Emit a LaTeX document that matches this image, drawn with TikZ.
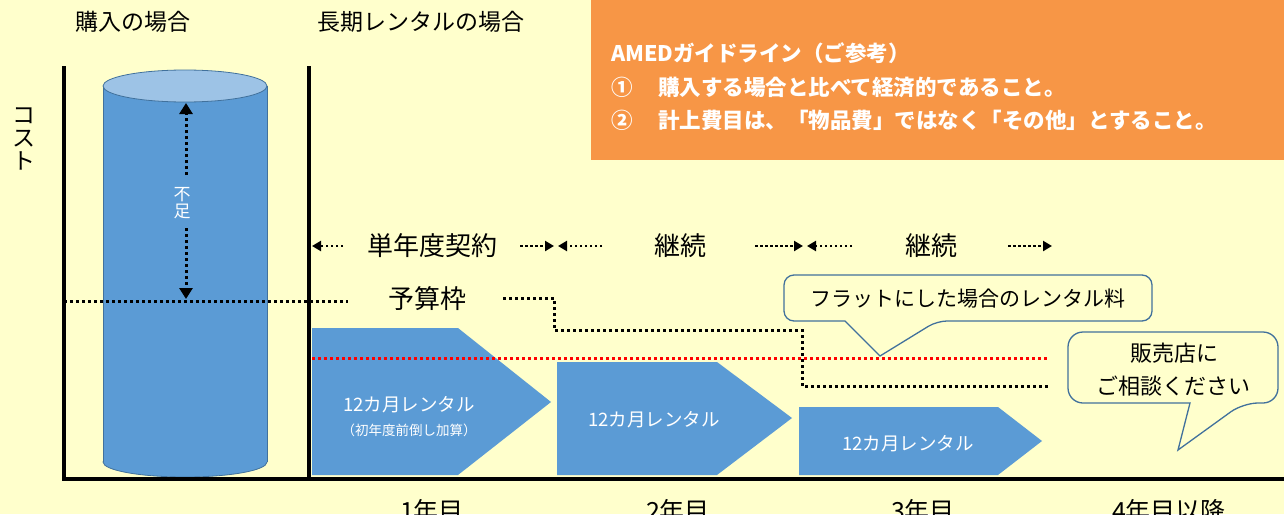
\documentclass[tikz,border=0pt]{standalone}
\usepackage{fontspec}
\setmainfont{Noto Sans CJK JP}
\usetikzlibrary{arrows.meta}
\definecolor{bg}{HTML}{FFFFCC}
\definecolor{orng}{HTML}{F79646}
\definecolor{cylblue}{HTML}{5B9BD5}
\definecolor{cyltop}{HTML}{9DC3E6}
\definecolor{edgeblue}{HTML}{41719C}
\newcommand\fsz[1]{\fontsize{#1pt}{#1pt}\selectfont}
\begin{document}
\begin{tikzpicture}[x=1pt,y=-1pt,
  axis/.style={line width=4pt},
  dotline/.style={line width=3pt, dash pattern=on 3pt off 3pt},
  dotarr/.style={line width=2.5pt, dash pattern=on 2.5pt off 2.5pt, -{Triangle[length=9pt,width=10pt]}},
  cylarr/.style={line width=3pt, dash pattern=on 3pt off 3pt, -{Triangle[length=11pt,width=13pt]}},
  penta/.style={fill=cylblue},
  callout/.style={draw=edgeblue, line width=1.3pt, fill=bg},
  lbl/.style={inner sep=0pt, text=black},
  wlbl/.style={inner sep=0pt, text=white},
  olbl/.style={inner sep=0pt, text=white, anchor=west, font={\fsz{21.5}\bfseries}}]
\useasboundingbox (0,0) rectangle (1284,514);
\fill[bg] (0,0) rectangle (1284,514);
% orange box
\fill[orng] (591,0) rectangle (1284,160);
\node[olbl] (amed) at (611,53) {AMEDガイドライン（ご参考）};
\node[olbl] (n1) at (611,87) {①};
\node[olbl] (l1) at (658,87) {購入する場合と比べて経済的であること。};
\node[olbl] (n2) at (611,120) {②};
\node[olbl] (l2) at (658,120) {計上費目は、「物品費」ではなく「その他」とすること。};
% headings
\node[lbl, font=\fsz{23}] (buy) at (133,22) {購入の場合};
\node[lbl, font=\fsz{23}] (rent) at (421,22) {長期レンタルの場合};
\node[lbl, font=\fsz{23}, align=center] (cost) at (24,139) {\fontsize{23pt}{24pt}\selectfont コ\\ス\\ト};
% pentagons
\fill[penta] (312,328) -- (458,328) -- (551,402) -- (458,475) -- (312,475) -- cycle;
\fill[penta] (557,362) -- (717,362) -- (792,418) -- (717,475) -- (557,475) -- cycle;
\fill[penta] (799,407) -- (998,407) -- (1042,441) -- (998,475) -- (799,475) -- cycle;
\node[wlbl, font=\fsz{18.5}] (p1) at (409,405) {12カ月レンタル};
\node[wlbl, font=\fsz{13.5}] (p1b) at (409,430) {（初年度前倒し加算）};
\node[wlbl, font=\fsz{18.5}] (p2) at (654,420) {12カ月レンタル};
\node[wlbl, font=\fsz{18.5}] (p3) at (908,444) {12カ月レンタル};
% cylinder
\filldraw[fill=cylblue, draw=edgeblue, line width=0.8pt] (185,462) ellipse [x radius=82pt, y radius=15pt];
\fill[cylblue] (103,86) rectangle (267,462);
\draw[edgeblue, line width=0.8pt] (103,86) -- (103,462) (267,86) -- (267,462);
\filldraw[fill=cyltop, draw=edgeblue, line width=0.8pt] (185,86) ellipse [x radius=82pt, y radius=16pt];
\node[wlbl, font=\fsz{17}, align=center] (lack) at (182,203) {\fontsize{17pt}{17pt}\selectfont 不\\足};
\coordinate (ca1) at (186,175);
\coordinate (ca0) at (186,103);
\coordinate (cb1) at (186,228);
\coordinate (cb0) at (186,299);
\draw[cylarr] (ca1) -- (ca0);
\draw[cylarr] (cb1) -- (cb0);
% axes
\draw[axis] (64,66) -- (64,481);
\draw[axis] (309,66) -- (309,481);
\draw[axis] (62,479) -- (1284,479);
% arrow row
\node[lbl, font=\fsz{26}] (t1) at (432,246) {単年度契約};
\node[lbl, font=\fsz{26}] (t2) at (680,246) {継続};
\node[lbl, font=\fsz{26}] (t3) at (931,246) {継続};
\coordinate (a0) at (312,246); \coordinate (a1) at (343,246);
\coordinate (b0) at (520,246); \coordinate (b1) at (554,246);
\coordinate (c0) at (602,246); \coordinate (c1) at (558,246);
\coordinate (d0) at (755,246); \coordinate (d1) at (803,246);
\coordinate (e0) at (852,246); \coordinate (e1) at (807,246);
\coordinate (f0) at (1008,246); \coordinate (f1) at (1052,246);
\draw[dotarr] (a1) -- (a0);
\draw[dotarr] (b0) -- (b1);
\draw[dotarr] (c0) -- (c1);
\draw[dotarr] (d0) -- (d1);
\draw[dotarr] (e0) -- (e1);
\draw[dotarr] (f0) -- (f1);
% budget line
\node[lbl, font=\fsz{26}] (budget) at (427,299) {予算枠};
\coordinate (g0) at (64,301); \coordinate (g1) at (348,301);
\coordinate (h0) at (503,298); \coordinate (h1) at (554,298);
\coordinate (h2) at (554,330); \coordinate (h3) at (802,330);
\coordinate (h4) at (802,386); \coordinate (h5) at (1048,386);
\draw[dotline] (g0) -- (g1);
\draw[dotline] (h0) -- (h1) -- (h2) -- (h3) -- (h4) -- (h5);
% red flat line
\coordinate (r0) at (312,358); \coordinate (r1) at (1048,358);
\draw[dotline, red] (r0) -- (r1);
% callouts
\draw[callout] (784,298) [rounded corners=10pt] -- (784,275) -- (1152,275) -- (1152,321) -- (937,321) [sharp corners] -- (880,356) -- (845,321) [rounded corners=10pt] -- (784,321) -- cycle;
\node[lbl, font=\fsz{21}] (flat) at (968,299) {フラットにした場合のレンタル料};
\draw[callout] (1068,368) [rounded corners=15pt] -- (1068,332) -- (1278,332) -- (1278,403) -- (1243,403) [sharp corners] -- (1178,450) -- (1190,403) [rounded corners=15pt] -- (1068,403) -- cycle;
\node[lbl, font=\fsz{22}] (shop1) at (1174,353) {販売店に};
\node[lbl, font=\fsz{22}] (shop2) at (1173,386) {ご相談ください};
% year labels
\node[lbl, font=\fsz{25}] (y1) at (432,511) {1年目};
\node[lbl, font=\fsz{25}] (y2) at (678,511) {2年目};
\node[lbl, font=\fsz{25}] (y3) at (923,511) {3年目};
\node[lbl, font=\fsz{25}] (y4) at (1169,511) {4年目以降};
\end{tikzpicture}
\end{document}
